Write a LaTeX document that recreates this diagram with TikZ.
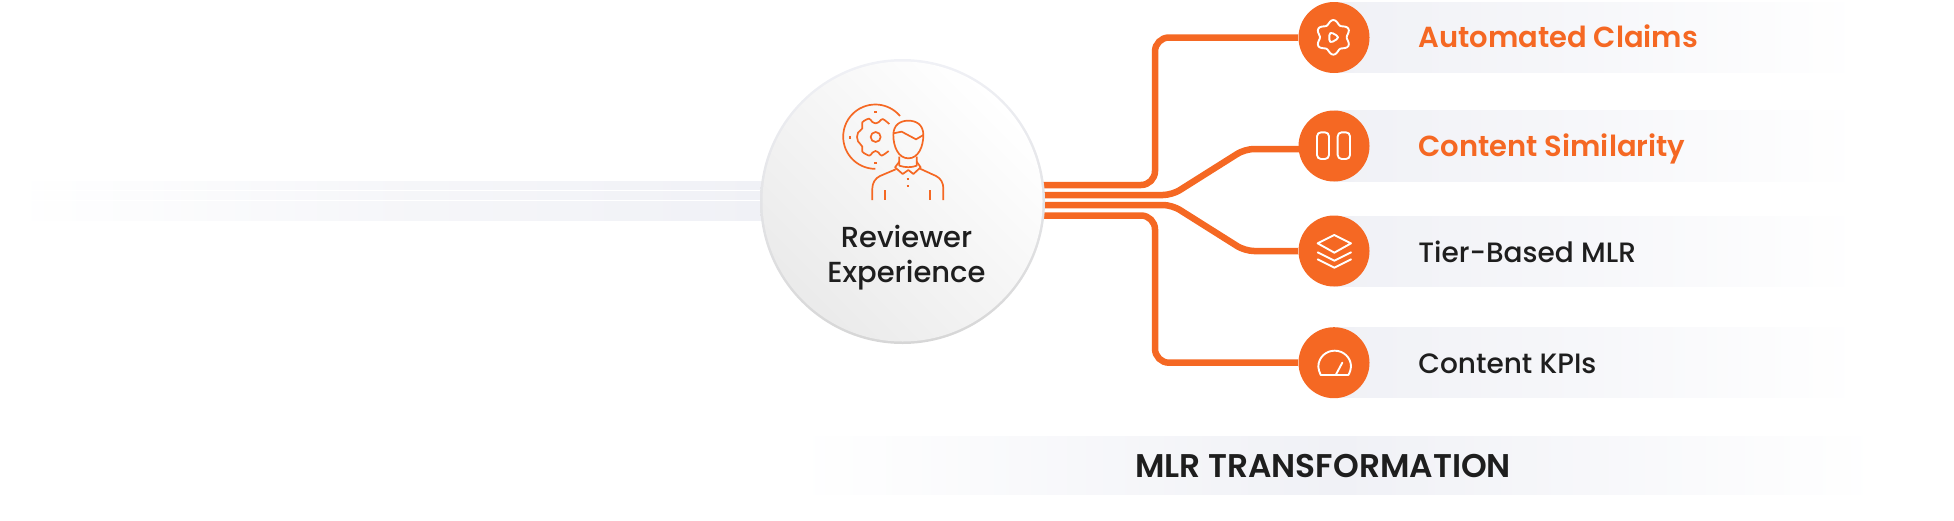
\documentclass[tikz,border=0pt]{standalone}
\usepackage{fontspec}
\setmainfont{Poppins}
\newfontfamily\psemi{Poppins SemiBold}
\newfontfamily\pmed{Poppins Medium}
\usetikzlibrary{backgrounds}
\definecolor{brand}{HTML}{F56823}
\definecolor{band}{HTML}{F0F1F6}
\definecolor{ink}{HTML}{1E1E1E}
\tikzset{
  conn/.style={draw=brand,line width=3.25pt,rounded corners=7pt},
  connd/.style={draw=brand,line width=3.25pt,rounded corners=4.5pt},
  badge/.style={circle,fill=brand,minimum size=35.5pt,inner sep=0pt},
  lbl/.style={anchor=base west,inner sep=0pt,font=\pmed\fontsize{14}{17}\selectfont,text=ink},
  lblhot/.style={anchor=base west,inner sep=0pt,font=\psemi\fontsize{14.5}{17}\selectfont,text=brand},
  ico/.style={draw=white,line width=0.95pt,line join=round,line cap=round},
  per/.style={draw=brand,line width=0.85pt,line join=round},
  hubtext/.style={anchor=base,inner sep=0pt,font=\pmed\fontsize{14.5}{17}\selectfont,text=ink},
  fadeL/.style={left color=white,right color=band,middle color=band!62!white},
  fadeR/.style={left color=band,right color=white,middle color=band!55!white},
  fadeB/.style={left color=white,right color=white,middle color=band}
}
\begin{document}
\begin{tikzpicture}[x=0.5pt,y=-0.5pt]
\useasboundingbox (0,0) rectangle (1954,520);
% hub
\node[circle,inner sep=0pt,minimum size=142.5pt,top color=band,bottom color=black!16] (hub) at (902.5,201.5) {};
\shade[left color=black!8,right color=white,shading angle=135] (hub.center) circle[radius=140];
% badges
\node[badge] (c1) at (1334,37.5) {};
\node[badge] (c2) at (1334,146) {};
\node[badge] (c3) at (1334,251) {};
\node[badge] (c4) at (1334,362.7) {};
% stubs and bends
\coordinate (h1) at (1040,185);
\coordinate (h2) at (1040,195);
\coordinate (h3) at (1040,205);
\coordinate (h4) at (1040,215.5);
\coordinate (b1a) at (1155,185);
\coordinate (b1b) at (1155,37.5);
\coordinate (b2a) at (1172,195);
\coordinate (b2b) at (1245,149);
\coordinate (e2) at (1310,149);
\coordinate (b3a) at (1172,205);
\coordinate (b3b) at (1245,251);
\coordinate (b4a) at (1155,215.5);
\coordinate (b4b) at (1155,362.7);
\begin{pgfonlayer}{background}
  % left fading bands
  \shade[fadeL] (10,181) rectangle (770,189);
  \shade[fadeL] (10,191) rectangle (770,199);
  \shade[fadeL] (10,201) rectangle (770,210);
  \shade[fadeL] (10,211) rectangle (770,220);
  % right fading bands
  \shade[fadeR] (1334,2) rectangle (1860,72.6);
  \shade[fadeR] (1334,110.7) rectangle (1860,181);
  \shade[fadeR] (1334,216) rectangle (1860,286);
  \shade[fadeR] (1334,327.7) rectangle (1860,397.7);
  % bottom band
  \shade[fadeB] (795,436) rectangle (1880,494.5);
  % connectors
  \draw[conn] (h1) -- (b1a) -- (b1b) -- (c1);
  \draw[connd] (h2) -- (b2a) -- (b2b) -- (e2);
  \draw[connd] (h3) -- (b3a) -- (b3b) -- (c3);
  \draw[conn] (h4) -- (b4a) -- (b4b) -- (c4);
\end{pgfonlayer}
% person icon
\begin{scope}[shift={(830,90)},x=0.1666667pt,y=-0.1666667pt]
  \draw[per] (210,78) arc[start angle=-40,end angle=-270,radius=96.5];
  \draw[per] (133,65) -- (141,65) (133,218) -- (141,218) (60,138) -- (60,147);
  \draw[per] (137,141) circle[radius=15];
  \draw[per] plot[smooth,tension=.55] coordinates {(178,102) (158,87) (148,95) (137,100) (126,95) (117,86) (97,97) (97,115) (84,128) (81,141) (84,154) (97,170) (97,185) (118,197) (127,188) (136,183) (146,188) (155,197) (176,183)};
  \draw[per] (190,135) .. controls (190,105) and (210,92) .. (235,92) .. controls (260,92) and (280,105) .. (280,135) .. controls (280,170) and (265,205) .. (235,205) .. controls (205,205) and (190,170) .. (190,135);
  \draw[per] (190,130) -- (215,125) -- (258,148) -- (280,135);
  \draw[per] (208,200) -- (208,227) .. controls (225,233) and (245,233) .. (260,227) -- (260,200);
  \draw[per] (208,215) -- (195,232) -- (218,252) -- (235,240) -- (250,252) -- (272,232) -- (260,215);
  \draw[per] (197,238) -- (150,258) .. controls (135,265) and (127,280) .. (127,295) -- (127,330);
  \draw[per] (270,236) -- (318,258) .. controls (333,265) and (340,280) .. (340,295) -- (340,330);
  \draw[per] (165,300) -- (165,330) (300,300) -- (300,330);
  \draw[per] (230,267) -- (238,267) (230,287) -- (238,287);
\end{scope}
% badge icon 1
\begin{scope}[shift={(1290,0)},x=0.1666667pt,y=-0.1666667pt]
  \draw[ico] plot[smooth cycle,samples=60,domain=0:354] ({130+(46+6*cos(6*(\x-90)))*cos(\x)},{112+(46+6*cos(6*(\x-90)))*sin(\x)});
  \draw[ico,rounded corners=2pt] (118,94) -- (150,112) -- (118,131) -- cycle;
\end{scope}
% badge icon 2
\begin{scope}[shift={(1290,100)},x=0.1666667pt,y=-0.1666667pt]
  \draw[ico,rounded corners=2pt] (81,97) rectangle (117,177);
  \draw[ico,rounded corners=2pt] (143,97) rectangle (180,177);
\end{scope}
% badge icon 3
\begin{scope}[shift={(1290,210)},x=0.1666667pt,y=-0.1666667pt]
  \draw[ico] (133,75) -- (183,100) -- (133,128) -- (83,100) -- cycle;
  \draw[ico] (83,127) -- (133,152) -- (183,127);
  \draw[ico] (83,148) -- (133,173) -- (183,148);
\end{scope}
% badge icon 4
\begin{scope}[shift={(1290,320)},x=0.1666667pt,y=-0.1666667pt]
  \draw[ico] (92,165) -- (175,165) .. controls (180,155) and (183,148) .. (183,140) .. controls (183,112) and (160,92) .. (134,92) .. controls (108,92) and (85,112) .. (85,140) .. controls (85,148) and (88,155) .. (92,165);
  \draw[ico] (137,165) -- (157,128);
\end{scope}
% texts
\node[hubtext] (t1) at (906.5,247) {Reviewer};
\node[hubtext] (t2) at (906.5,282) {Experience};
\node[lblhot] (l1) at (1418,47) {Automated Claims};
\node[lblhot] (l2) at (1418,156) {Content Similarity};
\node[lbl] (l3) at (1418,262) {Tier-Based MLR};
\node[lbl] (l4) at (1418,373) {Content KPIs};
\node[anchor=base,inner sep=0pt,font=\psemi\fontsize{16.4}{18}\selectfont,text=ink] (foot) at (1323,477) {MLR TRANSFORMATION};
\end{tikzpicture}
\end{document}
